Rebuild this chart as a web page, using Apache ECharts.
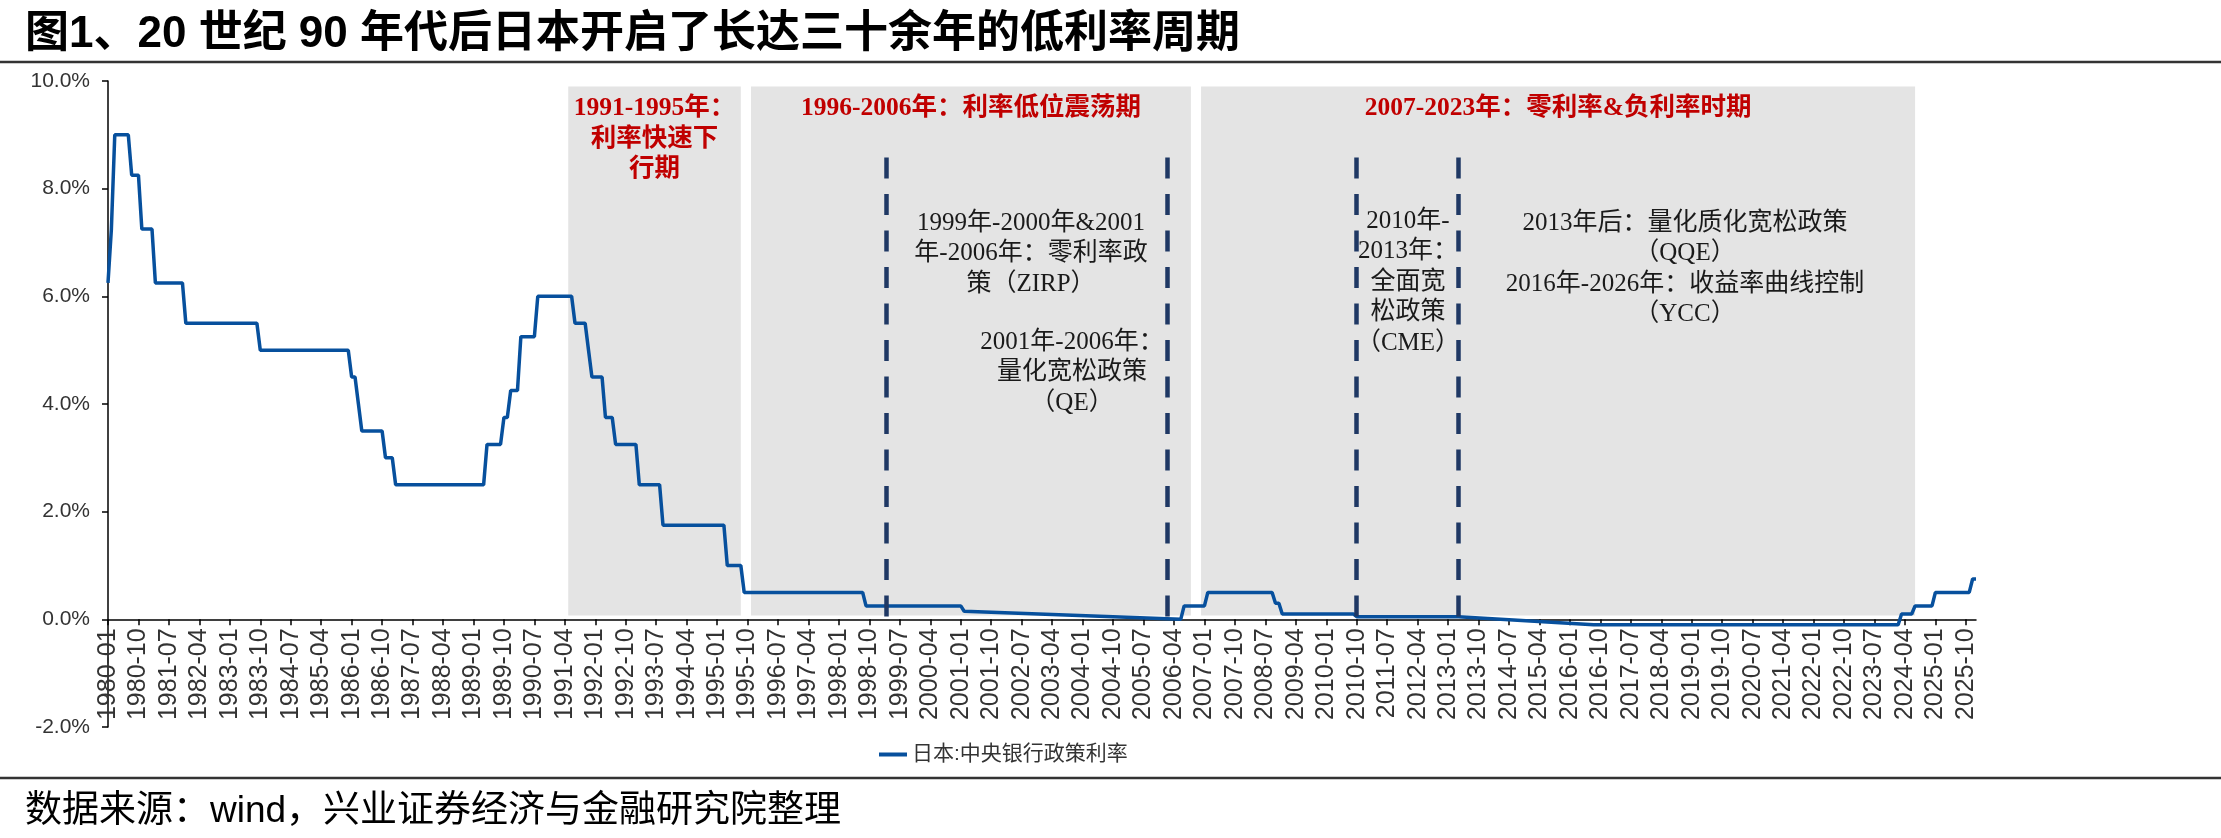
<!DOCTYPE html>
<html>
<head>
<meta charset="utf-8">
<script src="https://cdn.jsdelivr.net/npm/echarts@6/dist/echarts.min.js"></script>
<style>
html,body{margin:0;padding:0;background:#fff;}
#c{width:2221px;height:838px;}
</style>
</head>
<body>
<div id="c"></div>
<script>
// ---------- data ----------
const firstMonth = '1980-01';
const lastMonth = '2026-01';

// vertices of the policy-rate line (month, %)
const rateDates = [
  '1980-01','1980-02','1980-03','1980-07','1980-08','1980-10','1980-11','1981-02','1981-03','1981-11',
  '1981-12','1983-09','1983-10','1985-12','1986-01','1986-02','1986-03','1986-04','1986-10','1986-11',
  '1987-01','1987-02','1989-04','1989-05','1989-09','1989-10','1989-11','1989-12','1990-02','1990-03',
  '1990-07','1990-08','1991-06','1991-07','1991-10','1991-11','1991-12','1992-03','1992-04','1992-06',
  '1992-07','1993-01','1993-02','1993-08','1993-09','1995-03','1995-04','1995-08','1995-09','1998-08',
  '1998-09','2001-01','2001-02','2006-06','2006-07','2007-01','2007-02','2008-09','2008-10','2008-11',
  '2008-12','2010-09','2010-10','2013-04','2016-08','2024-02','2024-03','2024-06','2024-07','2024-12',
  '2025-01','2025-11','2025-12','2026-01'
];
const rateValues = [
  6.25,7.25,9.00,9.00,8.25,8.25,7.25,7.25,6.25,6.25,
  5.50,5.50,5.00,5.00,4.50,4.50,4.00,3.50,3.50,3.00,
  3.00,2.50,2.50,3.25,3.25,3.75,3.75,4.25,4.25,5.25,
  5.25,6.00,6.00,5.50,5.50,5.00,4.50,4.50,3.75,3.75,
  3.25,3.25,2.50,2.50,1.75,1.75,1.00,1.00,0.50,0.50,
  0.25,0.25,0.15,0.00,0.25,0.25,0.50,0.50,0.30,0.30,
  0.10,0.10,0.05,0.05,-0.10,-0.10,0.10,0.10,0.25,0.25,
  0.50,0.50,0.75,0.75
];
const seriesName = '日本:中央银行政策利率';

// shaded periods
const periodNames = ['1991-1995年：\n利率快速下\n行期', '1996-2006年：利率低位震荡期', '2007-2023年：零利率&负利率时期'];
const periodStarts = ['1991-05', '1995-11', '2006-12'];
const periodEnds = ['1995-08', '2006-09', '2024-07'];

// dashed policy boundaries
const policyLineDates = ['1999-03', '2006-02', '2010-10', '2013-04'];

// annotation texts
const noteTexts = [
  '1999年-2000年&2001\n年-2006年：零利率政\n策（ZIRP）',
  '2001年-2006年：\n量化宽松政策\n（QE）',
  '2010年-\n2013年：\n全面宽\n松政策\n（CME）',
  '2013年后：量化质化宽松政策\n（QQE）\n2016年-2026年：收益率曲线控制\n（YCC）'
];

const yMin = -2, yMax = 10, yStep = 2;
const titleText = '图1、20 世纪 90 年代后日本开启了长达三十余年的低利率周期';
const sourceText = '数据来源：wind，兴业证券经济与金融研究院整理';

// ---------- build ----------
const months = [];
(function () {
  let [y, m] = firstMonth.split('-').map(Number);
  const [ey, em] = lastMonth.split('-').map(Number);
  while (y < ey || (y === ey && m <= em)) {
    months.push(y + '-' + String(m).padStart(2, '0'));
    m++; if (m > 12) { m = 1; y++; }
  }
})();
const lineData = rateDates.map((d, i) => [d, rateValues[i]]);

const SERIF = '"Liberation Serif","Times New Roman","Noto Sans CJK SC",serif';
const SANS = '"Liberation Sans",Arial,"Noto Sans CJK SC",sans-serif';

const areaTop = 9.9, areaBottom = 0.07, dashTop = 8.58;
const notePos = [[1031, 208], [1072, 327], [1408, 206], [1685, 208]];

const gridTop = 81, gridBottom = 111, chartH = 838;
const plotH = chartH - gridTop - gridBottom;
const zeroOffset = -plotH * (0 - yMin) / (yMax - yMin);

const chart = echarts.init(document.getElementById('c'), null, {renderer: 'canvas'});
const option = {
  backgroundColor: '#fff',
  animation: false,
  title: [
    {text: titleText, left: 20, top: 8,
     textStyle: {fontSize: 44, fontWeight: 'bold', color: '#000', fontFamily: SANS, lineHeight: 44}},
    {text: sourceText, left: 20, top: 788,
     textStyle: {fontSize: 37, fontWeight: 'normal', color: '#000', fontFamily: SANS, lineHeight: 37}}
  ],
  legend: {
    data: [seriesName], left: 874, top: 739, icon: 'rect', itemWidth: 28, itemHeight: 4,
    textStyle: {fontSize: 21, color: '#333', fontFamily: SANS}
  },
  grid: {left: 108, right: 245, top: gridTop, bottom: gridBottom, containLabel: false, outerBoundsMode: 'none'},
  xAxis: {
    type: 'category', data: months, boundaryGap: false, offset: zeroOffset,
    axisLine: {onZero: false, lineStyle: {color: '#000', width: 1.5}},
    axisTick: {show: true, interval: 8, length: 6, lineStyle: {color: '#000', width: 1.5}},
    axisLabel: {interval: 8, rotate: 90, fontSize: 25, color: '#333', margin: 9, fontFamily: SANS},
    splitLine: {show: false}
  },
  yAxis: {
    type: 'value', min: yMin, max: yMax, interval: yStep,
    axisLine: {show: true, lineStyle: {color: '#000', width: 1.5}},
    axisTick: {show: true, length: 6, lineStyle: {color: '#000', width: 1.5}},
    axisLabel: {formatter: v => v.toFixed(1) + '%', fontSize: 21, color: '#333', margin: 18, fontFamily: SANS},
    splitLine: {show: false}
  },
  series: [{
    name: seriesName, type: 'line', data: lineData, symbol: 'none', z: 3,
    lineStyle: {color: '#07509d', width: 3.5}, itemStyle: {color: '#07509d'},
    markArea: {
      silent: true, z: 1,
      itemStyle: {color: '#e4e4e4'},
      label: {show: true, position: 'insideTop', distance: 7, color: '#c00000', fontWeight: 'bold',
              fontSize: 25.5, lineHeight: 30.5, fontFamily: SERIF, align: 'center'},
      data: periodNames.map((n, i) => [
        {name: n, xAxis: periodStarts[i], yAxis: areaTop},
        {xAxis: periodEnds[i], yAxis: areaBottom}
      ])
    },
    markLine: {
      silent: true, symbol: ['none', 'none'], label: {show: false},
      lineStyle: {color: '#1f3864', width: 4.5, type: [21, 15.5]},
      emphasis: {disabled: true},
      data: policyLineDates.map(d => [{xAxis: d, yAxis: dashTop}, {xAxis: d, yAxis: 0}])
    }
  }],
  graphic: [
    {type: 'line', shape: {x1: 0, y1: 62, x2: 2221, y2: 62}, style: {stroke: '#333', lineWidth: 2.5}, silent: true},
    {type: 'line', shape: {x1: 0, y1: 778, x2: 2221, y2: 778}, style: {stroke: '#333', lineWidth: 2.5}, silent: true}
  ].concat(noteTexts.map((t, i) => ({
    type: 'text', x: notePos[i][0], y: notePos[i][1], silent: true, z: 10,
    style: {text: t, align: 'center', verticalAlign: 'top', fill: '#1a1a1a',
            fontSize: 25, lineHeight: 30.5, fontFamily: SERIF}
  })))
};
chart.setOption(option);
</script>
</body>
</html>
